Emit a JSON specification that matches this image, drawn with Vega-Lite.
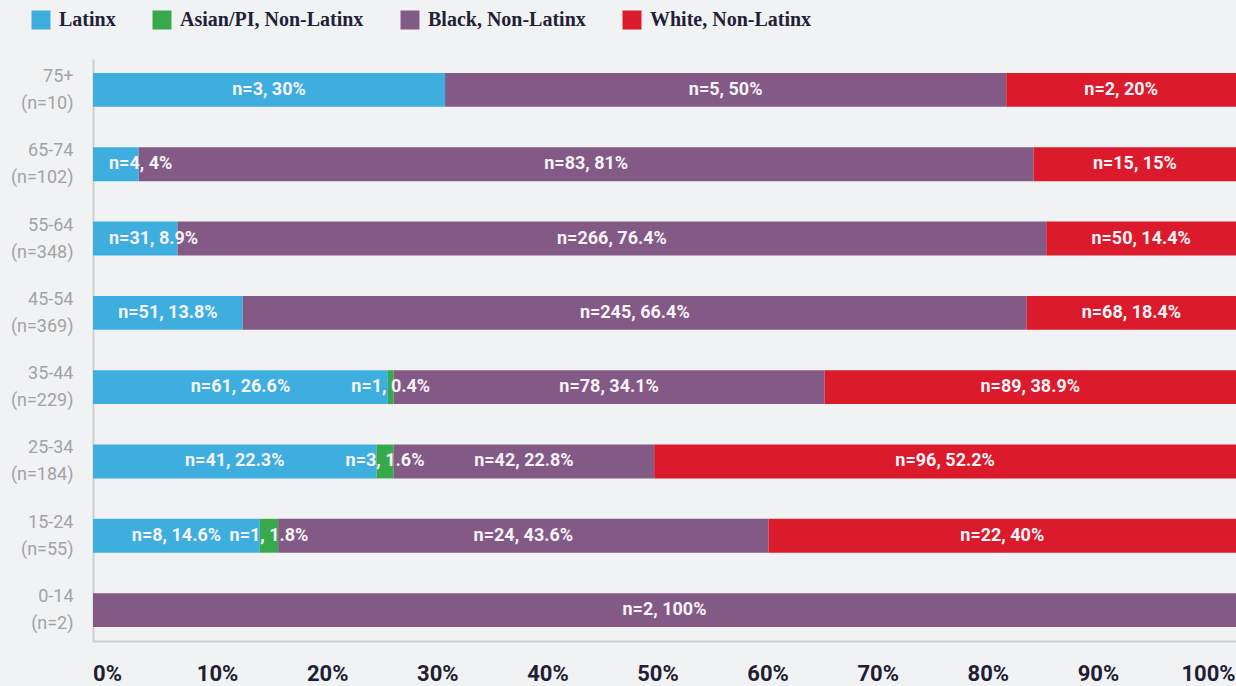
{
  "$schema": "https://vega.github.io/schema/vega-lite/v6.json",
  "width": 1143,
  "height": 582,
  "autosize": "none",
  "padding": {"left": 93, "top": 59, "right": 0, "bottom": 45},
  "background": "#f1f2f4",
  "config": {"view": {"stroke": null}},
  "data": {
    "values": [
      {"age": "75+|(n=10)", "group": "Latinx", "order": 1, "share": 30.8, "label": "n=3, 30%"},
      {"age": "75+|(n=10)", "group": "Black, Non-Latinx", "order": 3, "share": 49.1, "label": "n=5, 50%"},
      {"age": "75+|(n=10)", "group": "White, Non-Latinx", "order": 4, "share": 20.1, "label": "n=2, 20%"},
      {"age": "65-74|(n=102)", "group": "Latinx", "order": 1, "share": 4.0, "label": "n=4, 4%"},
      {"age": "65-74|(n=102)", "group": "Black, Non-Latinx", "order": 3, "share": 78.3, "label": "n=83, 81%"},
      {"age": "65-74|(n=102)", "group": "White, Non-Latinx", "order": 4, "share": 17.7, "label": "n=15, 15%"},
      {"age": "55-64|(n=348)", "group": "Latinx", "order": 1, "share": 7.4, "label": "n=31, 8.9%"},
      {"age": "55-64|(n=348)", "group": "Black, Non-Latinx", "order": 3, "share": 76.0, "label": "n=266, 76.4%"},
      {"age": "55-64|(n=348)", "group": "White, Non-Latinx", "order": 4, "share": 16.6, "label": "n=50, 14.4%"},
      {"age": "45-54|(n=369)", "group": "Latinx", "order": 1, "share": 13.1, "label": "n=51, 13.8%"},
      {"age": "45-54|(n=369)", "group": "Black, Non-Latinx", "order": 3, "share": 68.6, "label": "n=245, 66.4%"},
      {"age": "45-54|(n=369)", "group": "White, Non-Latinx", "order": 4, "share": 18.3, "label": "n=68, 18.4%"},
      {"age": "35-44|(n=229)", "group": "Latinx", "order": 1, "share": 25.8, "label": "n=61, 26.6%"},
      {"age": "35-44|(n=229)", "group": "Asian/PI, Non-Latinx", "order": 2, "share": 0.5, "label": "n=1, 0.4%"},
      {"age": "35-44|(n=229)", "group": "Black, Non-Latinx", "order": 3, "share": 37.7, "label": "n=78, 34.1%"},
      {"age": "35-44|(n=229)", "group": "White, Non-Latinx", "order": 4, "share": 36.0, "label": "n=89, 38.9%"},
      {"age": "25-34|(n=184)", "group": "Latinx", "order": 1, "share": 24.8, "label": "n=41, 22.3%"},
      {"age": "25-34|(n=184)", "group": "Asian/PI, Non-Latinx", "order": 2, "share": 1.5, "label": "n=3, 1.6%"},
      {"age": "25-34|(n=184)", "group": "Black, Non-Latinx", "order": 3, "share": 22.8, "label": "n=42, 22.8%"},
      {"age": "25-34|(n=184)", "group": "White, Non-Latinx", "order": 4, "share": 50.9, "label": "n=96, 52.2%"},
      {"age": "15-24|(n=55)", "group": "Latinx", "order": 1, "share": 14.6, "label": "n=8, 14.6%"},
      {"age": "15-24|(n=55)", "group": "Asian/PI, Non-Latinx", "order": 2, "share": 1.6, "label": "n=1, 1.8%"},
      {"age": "15-24|(n=55)", "group": "Black, Non-Latinx", "order": 3, "share": 42.9, "label": "n=24, 43.6%"},
      {"age": "15-24|(n=55)", "group": "White, Non-Latinx", "order": 4, "share": 40.9, "label": "n=22, 40%"},
      {"age": "0-14|(n=2)", "group": "Black, Non-Latinx", "order": 3, "share": 100, "label": "n=2, 100%"}
    ]
  },
  "transform": [
    {"stack": "share", "groupby": ["age"], "sort": [{"field": "order"}], "offset": "normalize", "as": ["x0", "x1"]},
    {"calculate": "(datum.x0 + datum.x1) / 2", "as": "xm"},
    {"calculate": "datum.order == 1 && datum.x1 < 0.1", "as": "narrow"}
  ],
  "encoding": {
    "y": {
      "field": "age",
      "type": "nominal",
      "sort": null,
      "scale": {"paddingInner": 0.544, "paddingOuter": 0.188},
      "axis": {
        "title": null,
        "labelExpr": "split(datum.value, '|')",
        "ticks": false,
        "domainColor": "#cfcfcf",
        "domainWidth": 2,
        "labelPadding": 20,
        "labelFont": "Roboto, sans-serif",
        "labelFontSize": 18,
        "labelColor": "#a3a3a5",
        "labelLineHeight": 27,
        "labelAlign": "right",
        "labelBaseline": "middle",
        "labelOffset": -13
      }
    }
  },
  "layer": [
    {
      "mark": {"type": "bar"},
      "encoding": {
        "x": {
          "field": "x0",
          "type": "quantitative",
          "scale": {"domain": [0, 1], "nice": false},
          "axis": {
            "title": null,
            "values": [0, 0.1, 0.2, 0.3, 0.4, 0.5, 0.6, 0.7, 0.8, 0.9, 1],
            "format": ".0%",
            "grid": false,
            "ticks": false,
            "domainColor": "#cfcfcf",
            "domainWidth": 2,
            "labelFont": "Roboto, sans-serif",
            "labelFontSize": 22,
            "labelFontWeight": "bold",
            "labelColor": "#211d35",
            "labelPadding": 22,
            "labelFlush": false,
            "labelOverlap": false,
            "labelAlign": "center",
            "labelOffset": {"expr": "14 - 42 * datum.value"}
          }
        },
        "x2": {"field": "x1"},
        "color": {
          "field": "group",
          "type": "nominal",
          "scale": {
            "domain": ["Latinx", "Asian/PI, Non-Latinx", "Black, Non-Latinx", "White, Non-Latinx"],
            "range": ["#3eaedf", "#38a94a", "#835a85", "#db1a2c"]
          },
          "legend": {
            "title": null,
            "orient": "none",
            "legendX": -62,
            "legendY": -49,
            "direction": "horizontal",
            "symbolType": "square",
            "symbolSize": 361,
            "symbolStrokeWidth": 0,
            "labelFont": "Liberation Serif, DejaVu Serif, serif",
            "labelFontSize": 20,
            "labelFontWeight": "bold",
            "labelColor": "#231f36",
            "labelOffset": 8,
            "labelLimit": 400,
            "columnPadding": 36,
            "padding": 0
          }
        }
      }
    },
    {
      "transform": [{"filter": "!datum.narrow"}],
      "mark": {
        "type": "text",
        "align": "center",
        "baseline": "middle",
        "font": "Roboto, sans-serif",
        "fontSize": 18,
        "fontWeight": "bold",
        "color": "#f5f3f7"
      },
      "encoding": {
        "x": {"field": "xm", "type": "quantitative"},
        "text": {"field": "label"}
      }
    },
    {
      "transform": [{"filter": "datum.narrow"}],
      "mark": {
        "type": "text",
        "align": "left",
        "baseline": "middle",
        "dx": 16,
        "font": "Roboto, sans-serif",
        "fontSize": 18,
        "fontWeight": "bold",
        "color": "#f5f3f7"
      },
      "encoding": {
        "x": {"field": "x0", "type": "quantitative"},
        "text": {"field": "label"}
      }
    }
  ]
}
